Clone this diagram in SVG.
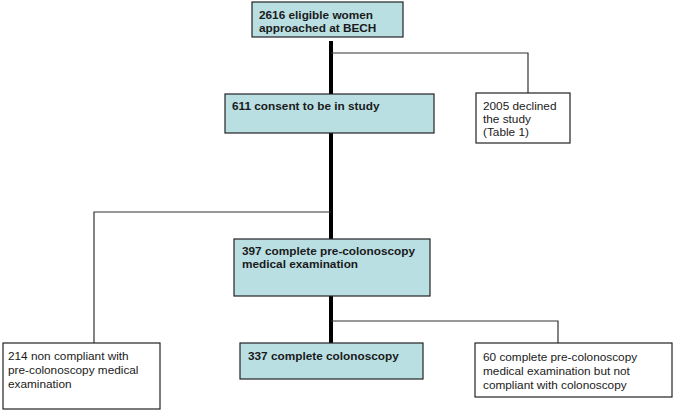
<svg xmlns="http://www.w3.org/2000/svg" width="675" height="412" viewBox="0 0 675 412">
<style>
.bx{fill:#b9dfe3;stroke:#222;stroke-width:1.2}
.wb{fill:#fff;stroke:#222;stroke-width:1.2}
.tb{font-family:"Liberation Sans",Arial,sans-serif;font-size:11.8px;font-weight:bold;fill:#1a1a1a}
.tr{font-family:"Liberation Sans",Arial,sans-serif;font-size:11.8px;fill:#1a1a1a}
.thick{stroke:#000;stroke-width:4;fill:none}
.thin{stroke:#333;stroke-width:1.2;fill:none}
</style>
<rect width="675" height="412" fill="#fff"/>
<g id="connectors">
<line class="thick" x1="331" y1="41" x2="331" y2="94"/>
<polyline class="thin" points="331,53 528,53 528,93"/>
<line class="thick" x1="331" y1="133" x2="331" y2="239"/>
<polyline class="thin" points="331,212 94,212 94,343"/>
<line class="thick" x1="331" y1="296" x2="331" y2="343"/>
<polyline class="thin" points="331,321 558,321 558,343"/>
</g>
<g id="n1">
<rect class="bx" x="252" y="2" width="151" height="35"/>
<text class="tb" x="259" y="19">2616 eligible women</text>
<text class="tb" x="259" y="32">approached at BECH</text>
</g>
<g id="n2">
<rect class="bx" x="225" y="94" width="209" height="39"/>
<text class="tb" x="232" y="110">611 consent to be in study</text>
</g>
<g id="n3">
<rect class="wb" x="476" y="93" width="94" height="50"/>
<text class="tr" x="483" y="110">2005 declined</text>
<text class="tr" x="483" y="123">the study</text>
<text class="tr" x="483" y="136">(Table 1)</text>
</g>
<g id="n4">
<rect class="bx" x="234" y="239" width="196" height="57"/>
<text class="tb" x="242" y="255">397 complete pre-colonoscopy</text>
<text class="tb" x="242" y="268">medical examination</text>
</g>
<g id="n5">
<rect class="wb" x="3" y="343" width="157" height="66"/>
<text class="tr" x="8" y="360">214 non compliant with</text>
<text class="tr" x="8" y="374">pre-colonoscopy medical</text>
<text class="tr" x="8" y="388">examination</text>
</g>
<g id="n6">
<rect class="bx" x="240" y="343" width="183" height="36"/>
<text class="tb" x="248" y="360">337 complete colonoscopy</text>
</g>
<g id="n7">
<rect class="wb" x="475" y="343" width="197" height="54"/>
<text class="tr" x="483" y="361">60 complete pre-colonoscopy</text>
<text class="tr" x="483" y="375">medical examination but not</text>
<text class="tr" x="483" y="389">compliant with colonoscopy</text>
</g>
</svg>
